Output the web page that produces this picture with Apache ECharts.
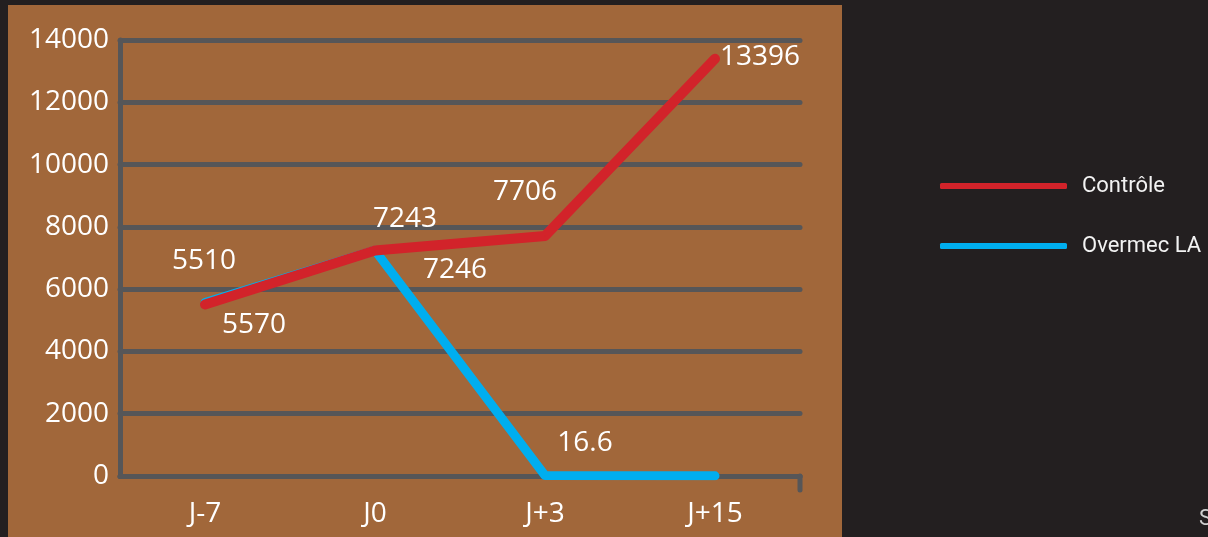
<!DOCTYPE html>
<html>
<head>
<meta charset="utf-8">
<script src="https://cdn.jsdelivr.net/npm/echarts@6/dist/echarts.min.js"></script>
<style>
html,body{margin:0;padding:0;background:#231f20;}
#chart{width:1208px;height:537px;}
</style>
</head>
<body>
<div id="chart"></div>
<script>
const categories = ['J-7', 'J0', 'J+3', 'J+15'];
const seriesNames = ['Contrôle', 'Overmec LA'];
const controle = [5510, 7243, 7706, 13396];
const overmec = [5570, 7246, 16.6, 5];
const yTicks = [0, 2000, 4000, 6000, 8000, 10000, 12000, 14000];

// label offsets (style only)
const controleLabelOffsets = [[-1, -43], [30, -31], [-20, -44], [45, -2]];
const overmecLabelOffsets = [[49, 22], [80, 20], [40, -32], null];

const labelFont = { color: '#ffffff', fontFamily: 'Open Sans', fontSize: 28 };

function buildData(values, offsets) {
  return values.map((v, i) => {
    const o = offsets[i];
    return {
      value: v,
      label: o ? { show: true, offset: o } : { show: false }
    };
  });
}

const chart = echarts.init(document.getElementById('chart'));
const gridLeft = 120, gridRight = 408, gridTop = 40, gridBottom = 61;

const baseGraphic = [
  { type: 'rect', z: -10, shape: { x: 8, y: 5, width: 834, height: 540 }, style: { fill: '#a1673a' } },
  { type: 'text', left: 1199, top: 508, style: { text: 'S', fill: '#d0d0d0', font: '22px Roboto' } }
];

const option = {
  backgroundColor: '#231f20',
  animation: false,
  graphic: baseGraphic,
  grid: { left: gridLeft, right: gridRight, top: gridTop, bottom: gridBottom },
  legend: {
    data: seriesNames,
    orient: 'vertical',
    left: 935,
    top: 170,
    itemWidth: 127,
    itemHeight: 6,
    itemGap: 38,
    icon: 'roundRect',
    textStyle: { color: '#f2f2f2', fontFamily: 'Roboto', fontSize: 22, padding: [0, 0, 0, 10] }
  },
  xAxis: {
    type: 'category',
    data: categories,
    boundaryGap: true,
    axisLine: { show: true, lineStyle: { color: '#565658', width: 5, cap: 'round' } },
    axisTick: { show: false },
    axisLabel: { color: '#ffffff', fontFamily: 'Open Sans', fontSize: 28, margin: 24 },
    splitLine: { show: false }
  },
  yAxis: {
    type: 'value',
    min: 0,
    max: 14000,
    interval: 2000,
    axisLine: { show: true, lineStyle: { color: '#565658', width: 5, cap: 'round' } },
    axisTick: { show: false },
    axisLabel: { color: '#ffffff', fontFamily: 'Open Sans', fontSize: 28, margin: 11,
      formatter: v => yTicks.includes(v) ? String(v) : '' },
    splitLine: { show: true, lineStyle: { color: '#565658', width: 5, cap: 'round' } }
  },
  series: [
    {
      name: seriesNames[1],
      type: 'line',
      z: 2,
      data: buildData(overmec, overmecLabelOffsets),
      symbol: 'circle',
      symbolSize: 1,
      color: '#00aeef',
      lineStyle: { width: 9, cap: 'round', join: 'round' },
      label: { position: 'inside', ...labelFont },
      emphasis: { disabled: true }
    },
    {
      name: seriesNames[0],
      type: 'line',
      z: 3,
      data: buildData(controle, controleLabelOffsets),
      symbol: 'circle',
      symbolSize: 1,
      color: '#d2232a',
      lineStyle: { width: 10, cap: 'round', join: 'round' },
      label: { position: 'inside', ...labelFont },
      emphasis: { disabled: true }
    }
  ]
};
chart.setOption(option);

// end tick on the x axis, placed from the grid's own rect
const rect = chart.getModel().getComponent('grid').coordinateSystem.getRect();
chart.setOption({
  graphic: baseGraphic.concat([
    { type: 'line', z: 5, shape: { x1: rect.x + rect.width, y1: rect.y + rect.height, x2: rect.x + rect.width, y2: rect.y + rect.height + 14 },
      style: { stroke: '#565658', lineWidth: 5, lineCap: 'round' } }
  ])
});
</script>
</body>
</html>
